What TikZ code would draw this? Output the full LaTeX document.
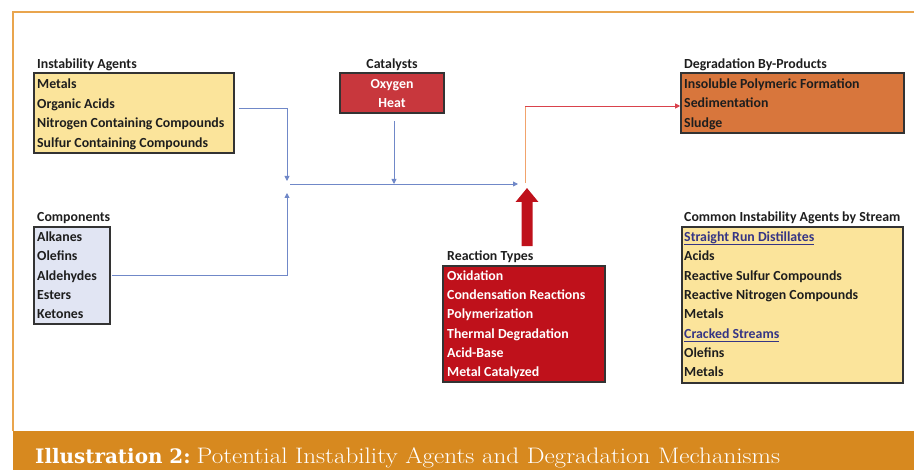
\documentclass[tikz,border=0pt]{standalone}
\usepackage{fontspec}
\newfontfamily\calfont{Carlito}
\newfontfamily\slabfont{DejaVu Serif}
\usetikzlibrary{arrows.meta}
\definecolor{frameor}{HTML}{E9A54E}
\definecolor{bandor}{HTML}{D7891F}
\definecolor{yelfill}{HTML}{FBE49B}
\definecolor{lavfill}{HTML}{E1E5F3}
\definecolor{catred}{HTML}{C8373D}
\definecolor{degor}{HTML}{D8763C}
\definecolor{reacred}{HTML}{BF111B}
\definecolor{conblue}{HTML}{7088C8}
\definecolor{conred}{HTML}{D9424C}
\definecolor{conor}{HTML}{F1A36C}
\definecolor{linkblue}{HTML}{353585}
\definecolor{txt}{HTML}{1E1E1E}
\begin{document}
\begin{tikzpicture}[x=1bp,y=-1bp,
  box/.style={draw=black!80, line width=1.6bp, inner sep=0pt},
  lbl/.style={anchor=base west, font=\calfont\bfseries\fontsize{13.9}{15}\selectfont, text=txt, inner sep=0pt},
  wlbl/.style={lbl, text=white},
  clbl/.style={lbl, anchor=base},
  link/.style={lbl, text=linkblue},
  bl/.style={draw=conblue, line width=0.9bp},
  tip/.style={-{Triangle[length=5bp,width=5bp]}}
]
\useasboundingbox (0,0) rectangle (914,470);
% frame and band
\draw[frameor, line width=1.5bp] (13,431) -- (13,12) -- (914,12);
\fill[bandor] (13,431) rectangle (914,470);
\node[anchor=base west, inner sep=0pt, text=white] (cap) at (35,463)
  {{\slabfont\bfseries\fontsize{20}{22}\selectfont Illustration 2:}\hspace{6bp}\scalebox{1.12}[1]{\fontsize{22.5}{24}\selectfont Potential Instability Agents and Degradation Mechanisms}};

% Instability Agents
\node[box, fill=yelfill, minimum width=200bp, minimum height=80bp] (ia) at (134,113) {};
\node[lbl] (iat) at (37,69) {Instability Agents};
\node[lbl] (ia1) at (37,89) {Metals};
\node[lbl] (ia2) at (37,109) {Organic Acids};
\node[lbl] (ia3) at (37,128) {Nitrogen Containing Compounds};
\node[lbl] (ia4) at (37,148) {Sulfur Containing Compounds};

% Catalysts
\node[box, fill=catred, minimum width=104bp, minimum height=40bp] (cat) at (392,93) {};
\node[clbl] (catt) at (392,69) {Catalysts};
\node[clbl, text=white] (cat1) at (392,89) {Oxygen};
\node[clbl, text=white] (cat2) at (392,108) {Heat};

% Degradation By-Products
\node[box, fill=degor, minimum width=223bp, minimum height=60bp] (deg) at (792.5,103) {};
\node[lbl] (degt) at (684,69) {Degradation By-Products};
\node[lbl] (deg1) at (684,89) {Insoluble Polymeric Formation};
\node[lbl] (deg2) at (684,108) {Sedimentation};
\node[lbl] (deg3) at (684,128) {Sludge};

% Components
\node[box, fill=lavfill, minimum width=76bp, minimum height=97bp] (comp) at (72,275.5) {};
\node[lbl] (compt) at (37,222) {Components};
\node[lbl] (comp1) at (37,242) {Alkanes};
\node[lbl] (comp2) at (37,261) {Olefins};
\node[lbl] (comp3) at (37,281) {Aldehydes};
\node[lbl] (comp4) at (37,300) {Esters};
\node[lbl] (comp5) at (37,319) {Ketones};

% Reaction Types
\node[box, fill=reacred, minimum width=162bp, minimum height=116bp] (rt) at (524,324) {};
\node[lbl] (rtt) at (447,261) {Reaction Types};
\node[wlbl] (rt1) at (447,281) {Oxidation};
\node[wlbl] (rt2) at (447,300) {Condensation Reactions};
\node[wlbl] (rt3) at (447,319) {Polymerization};
\node[wlbl] (rt4) at (447,339) {Thermal Degradation};
\node[wlbl] (rt5) at (447,358) {Acid-Base};
\node[wlbl] (rt6) at (447,377) {Metal Catalyzed};

% Common Instability Agents by Stream
\node[box, fill=yelfill, minimum width=221bp, minimum height=156bp] (cs) at (792.5,305) {};
\node[lbl] (cst) at (684,222) {Common Instability Agents by Stream};
\node[link] (cs1) at (684,242) {Straight Run Distillates};
\node[lbl] (cs2) at (684,261) {Acids};
\node[lbl] (cs3) at (684,281) {Reactive Sulfur Compounds};
\node[lbl] (cs4) at (684,300) {Reactive Nitrogen Compounds};
\node[lbl] (cs5) at (684,319) {Metals};
\node[link] (cs6) at (684,339) {Cracked Streams};
\node[lbl] (cs7) at (684,358) {Olefins};
\node[lbl] (cs8) at (684,377) {Metals};
\draw[linkblue, line width=0.8bp] ([yshift=-2.4bp]cs1.base west) -- ([yshift=-2.4bp]cs1.base east);
\draw[linkblue, line width=0.8bp] ([yshift=-2.4bp]cs6.base west) -- ([yshift=-2.4bp]cs6.base east);

% connectors
\coordinate (j) at (287,184);
\coordinate (hub) at (525,184);
\coordinate (bend) at (525,106);
\draw[bl, tip] ([xshift=4bp,yshift=5bp]ia.east) -| ([yshift=3bp]j);
\draw[bl, tip] ([xshift=1bp]comp.east) -| ([yshift=-9bp]j);
\draw[bl, tip] ([xshift=3bp]j) -- ([xshift=-7bp]hub);
\draw[bl, tip] ([xshift=2bp,yshift=-7bp]cat.south) -- ([xshift=2bp]cat.south |- j);
\draw[conor, line width=0.9bp] ([yshift=1bp]hub) -- (bend);
\draw[conred, line width=0.9bp, -{Triangle[length=5bp,width=5bp]}] (bend) -- (bend -| deg.west);
\draw[reacred, line width=11bp, -{Triangle[length=14bp,width=22bp]}] ([xshift=3bp,yshift=19bp]rt.north) -- ([xshift=2bp,yshift=-4bp]hub);
\end{tikzpicture}
\end{document}
